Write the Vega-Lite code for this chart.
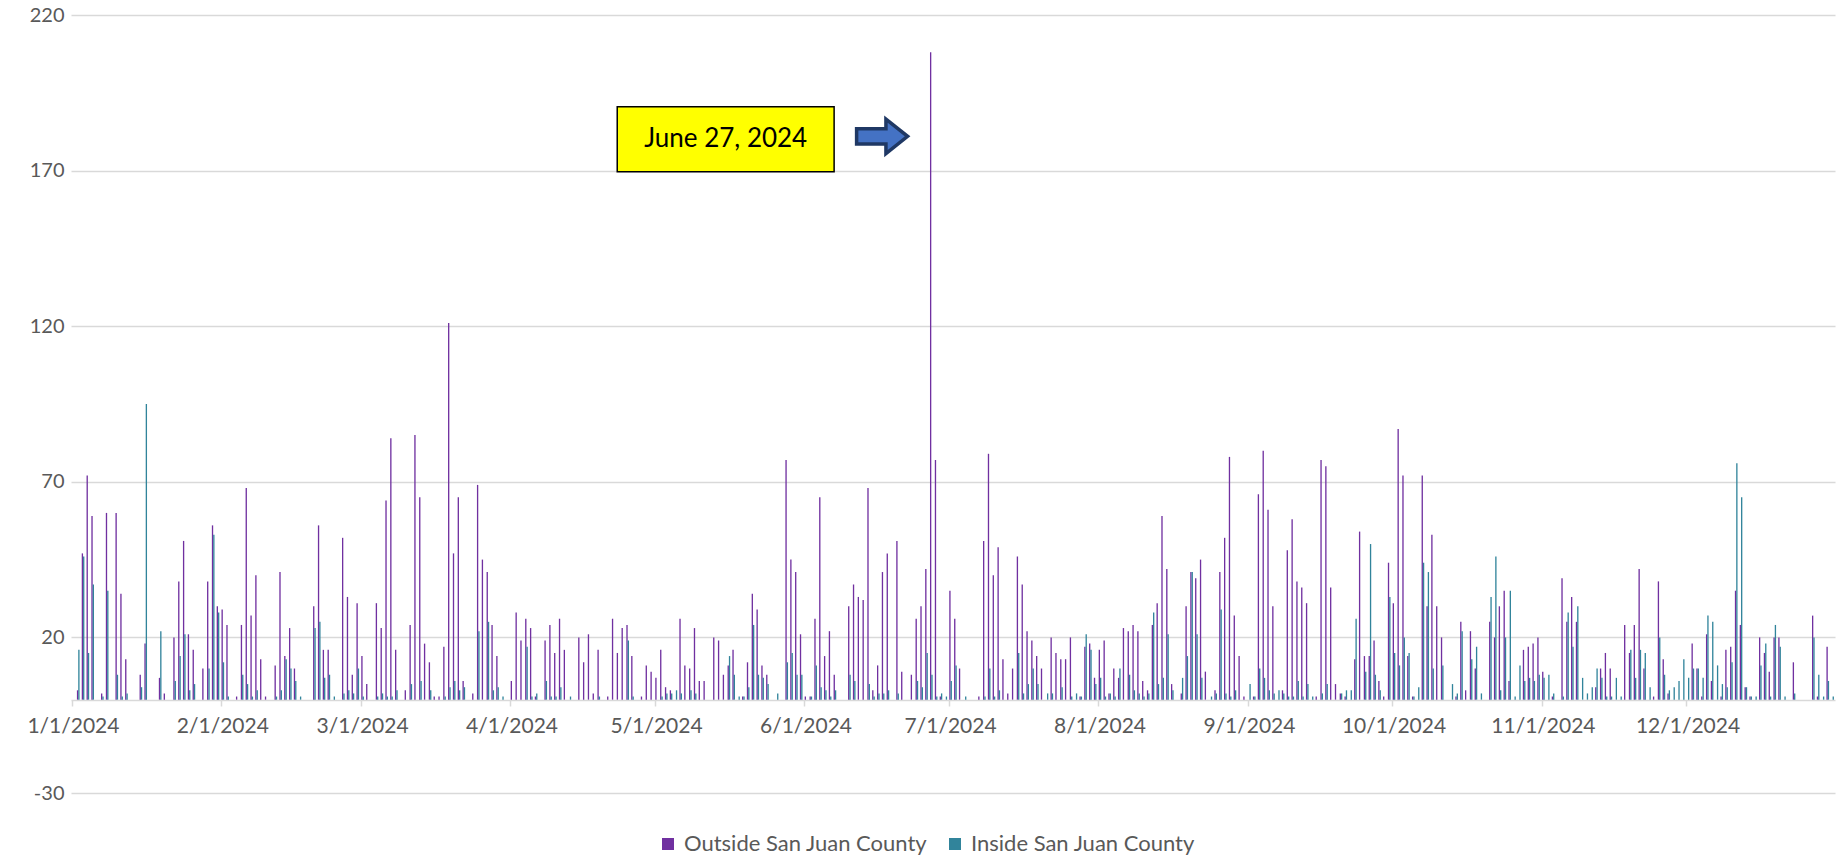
{"$schema":"https://vega.github.io/schema/vega-lite/v6.json","width":1764,"height":778,"autosize":{"type":"none"},"padding":{"left":71,"top":15,"right":12,"bottom":64},"background":"white","config":{"view":{"stroke":null},"font":"Lato"},
"datasets":{"daily":[
{"date":"2024-01-01","o":0,"i":0},{"date":"2024-01-02","o":3,"i":16},{"date":"2024-01-03","o":47,"i":46},{"date":"2024-01-04","o":72,"i":15},{"date":"2024-01-05","o":59,"i":37},{"date":"2024-01-06","o":0,"i":0},{"date":"2024-01-07","o":2,"i":1},{"date":"2024-01-08","o":60,"i":35},{"date":"2024-01-09","o":0,"i":0},{"date":"2024-01-10","o":60,"i":8},{"date":"2024-01-11","o":34,"i":1},{"date":"2024-01-12","o":13,"i":2},{"date":"2024-01-13","o":0,"i":0},{"date":"2024-01-14","o":0,"i":0},{"date":"2024-01-15","o":8,"i":4},{"date":"2024-01-16","o":18,"i":95},{"date":"2024-01-17","o":0,"i":0},{"date":"2024-01-18","o":0,"i":0},{"date":"2024-01-19","o":7,"i":22},{"date":"2024-01-20","o":2,"i":0},{"date":"2024-01-21","o":0,"i":0},{"date":"2024-01-22","o":20,"i":6},{"date":"2024-01-23","o":38,"i":14},{"date":"2024-01-24","o":51,"i":21},{"date":"2024-01-25","o":21,"i":3},{"date":"2024-01-26","o":16,"i":5},{"date":"2024-01-27","o":0,"i":0},{"date":"2024-01-28","o":10,"i":0},{"date":"2024-01-29","o":38,"i":10},{"date":"2024-01-30","o":56,"i":53},{"date":"2024-01-31","o":30,"i":28},
{"date":"2024-02-01","o":29,"i":12},{"date":"2024-02-02","o":24,"i":1},{"date":"2024-02-03","o":0,"i":0},{"date":"2024-02-04","o":1,"i":0},{"date":"2024-02-05","o":24,"i":8},{"date":"2024-02-06","o":68,"i":5},{"date":"2024-02-07","o":27,"i":1},{"date":"2024-02-08","o":40,"i":3},{"date":"2024-02-09","o":13,"i":0},{"date":"2024-02-10","o":1,"i":0},{"date":"2024-02-11","o":0,"i":0},{"date":"2024-02-12","o":11,"i":1},{"date":"2024-02-13","o":41,"i":3},{"date":"2024-02-14","o":14,"i":13},{"date":"2024-02-15","o":23,"i":10},{"date":"2024-02-16","o":10,"i":6},{"date":"2024-02-17","o":0,"i":1},{"date":"2024-02-18","o":0,"i":0},{"date":"2024-02-19","o":0,"i":0},{"date":"2024-02-20","o":30,"i":23},{"date":"2024-02-21","o":56,"i":25},{"date":"2024-02-22","o":16,"i":7},{"date":"2024-02-23","o":16,"i":8},{"date":"2024-02-24","o":0,"i":1},{"date":"2024-02-25","o":0,"i":0},{"date":"2024-02-26","o":52,"i":2},{"date":"2024-02-27","o":33,"i":3},{"date":"2024-02-28","o":8,"i":2},{"date":"2024-02-29","o":31,"i":10},
{"date":"2024-03-01","o":14,"i":1},{"date":"2024-03-02","o":5,"i":0},{"date":"2024-03-03","o":0,"i":0},{"date":"2024-03-04","o":31,"i":1},{"date":"2024-03-05","o":23,"i":2},{"date":"2024-03-06","o":64,"i":1},{"date":"2024-03-07","o":84,"i":1},{"date":"2024-03-08","o":16,"i":3},{"date":"2024-03-09","o":0,"i":0},{"date":"2024-03-10","o":3,"i":0},{"date":"2024-03-11","o":24,"i":5},{"date":"2024-03-12","o":85,"i":0},{"date":"2024-03-13","o":65,"i":6},{"date":"2024-03-14","o":18,"i":0},{"date":"2024-03-15","o":12,"i":3},{"date":"2024-03-16","o":1,"i":0},{"date":"2024-03-17","o":1,"i":0},{"date":"2024-03-18","o":17,"i":1},{"date":"2024-03-19","o":121,"i":4},{"date":"2024-03-20","o":47,"i":6},{"date":"2024-03-21","o":65,"i":3},{"date":"2024-03-22","o":6,"i":4},{"date":"2024-03-23","o":0,"i":0},{"date":"2024-03-24","o":2,"i":0},{"date":"2024-03-25","o":69,"i":22},{"date":"2024-03-26","o":45,"i":0},{"date":"2024-03-27","o":41,"i":25},{"date":"2024-03-28","o":24,"i":3},{"date":"2024-03-29","o":14,"i":4},{"date":"2024-03-30","o":0,"i":1},{"date":"2024-03-31","o":0,"i":0},
{"date":"2024-04-01","o":6,"i":0},{"date":"2024-04-02","o":28,"i":0},{"date":"2024-04-03","o":19,"i":0},{"date":"2024-04-04","o":26,"i":17},{"date":"2024-04-05","o":23,"i":1},{"date":"2024-04-06","o":1,"i":2},{"date":"2024-04-07","o":0,"i":0},{"date":"2024-04-08","o":19,"i":6},{"date":"2024-04-09","o":24,"i":1},{"date":"2024-04-10","o":15,"i":1},{"date":"2024-04-11","o":26,"i":4},{"date":"2024-04-12","o":16,"i":0},{"date":"2024-04-13","o":0,"i":1},{"date":"2024-04-14","o":0,"i":0},{"date":"2024-04-15","o":20,"i":0},{"date":"2024-04-16","o":12,"i":0},{"date":"2024-04-17","o":21,"i":0},{"date":"2024-04-18","o":2,"i":0},{"date":"2024-04-19","o":16,"i":1},{"date":"2024-04-20","o":0,"i":0},{"date":"2024-04-21","o":1,"i":0},{"date":"2024-04-22","o":26,"i":0},{"date":"2024-04-23","o":15,"i":0},{"date":"2024-04-24","o":23,"i":0},{"date":"2024-04-25","o":24,"i":19},{"date":"2024-04-26","o":14,"i":1},{"date":"2024-04-27","o":0,"i":0},{"date":"2024-04-28","o":1,"i":0},{"date":"2024-04-29","o":11,"i":0},{"date":"2024-04-30","o":9,"i":0},
{"date":"2024-05-01","o":7,"i":0},{"date":"2024-05-02","o":16,"i":1},{"date":"2024-05-03","o":4,"i":2},{"date":"2024-05-04","o":3,"i":2},{"date":"2024-05-05","o":0,"i":3},{"date":"2024-05-06","o":26,"i":2},{"date":"2024-05-07","o":11,"i":0},{"date":"2024-05-08","o":10,"i":3},{"date":"2024-05-09","o":23,"i":2},{"date":"2024-05-10","o":6,"i":0},{"date":"2024-05-11","o":6,"i":0},{"date":"2024-05-12","o":0,"i":0},{"date":"2024-05-13","o":20,"i":0},{"date":"2024-05-14","o":19,"i":0},{"date":"2024-05-15","o":8,"i":0},{"date":"2024-05-16","o":11,"i":14},{"date":"2024-05-17","o":16,"i":8},{"date":"2024-05-18","o":0,"i":1},{"date":"2024-05-19","o":1,"i":1},{"date":"2024-05-20","o":12,"i":4},{"date":"2024-05-21","o":34,"i":24},{"date":"2024-05-22","o":29,"i":8},{"date":"2024-05-23","o":11,"i":7},{"date":"2024-05-24","o":8,"i":5},{"date":"2024-05-25","o":0,"i":0},{"date":"2024-05-26","o":0,"i":2},{"date":"2024-05-27","o":0,"i":0},{"date":"2024-05-28","o":77,"i":12},{"date":"2024-05-29","o":45,"i":15},{"date":"2024-05-30","o":41,"i":8},{"date":"2024-05-31","o":21,"i":8},
{"date":"2024-06-01","o":1,"i":0},{"date":"2024-06-02","o":1,"i":1},{"date":"2024-06-03","o":26,"i":11},{"date":"2024-06-04","o":65,"i":4},{"date":"2024-06-05","o":14,"i":3},{"date":"2024-06-06","o":22,"i":1},{"date":"2024-06-07","o":8,"i":3},{"date":"2024-06-08","o":0,"i":0},{"date":"2024-06-09","o":0,"i":0},{"date":"2024-06-10","o":30,"i":8},{"date":"2024-06-11","o":37,"i":6},{"date":"2024-06-12","o":33,"i":0},{"date":"2024-06-13","o":32,"i":0},{"date":"2024-06-14","o":68,"i":5},{"date":"2024-06-15","o":3,"i":1},{"date":"2024-06-16","o":11,"i":2},{"date":"2024-06-17","o":41,"i":2},{"date":"2024-06-18","o":47,"i":3},{"date":"2024-06-19","o":0,"i":0},{"date":"2024-06-20","o":51,"i":2},{"date":"2024-06-21","o":9,"i":0},{"date":"2024-06-22","o":0,"i":0},{"date":"2024-06-23","o":8,"i":0},{"date":"2024-06-24","o":26,"i":6},{"date":"2024-06-25","o":30,"i":4},{"date":"2024-06-26","o":42,"i":15},{"date":"2024-06-27","o":208,"i":8},{"date":"2024-06-28","o":77,"i":1},{"date":"2024-06-29","o":1,"i":2},{"date":"2024-06-30","o":0,"i":1},
{"date":"2024-07-01","o":35,"i":6},{"date":"2024-07-02","o":26,"i":11},{"date":"2024-07-03","o":10,"i":0},{"date":"2024-07-04","o":0,"i":1},{"date":"2024-07-05","o":0,"i":0},{"date":"2024-07-06","o":0,"i":0},{"date":"2024-07-07","o":1,"i":0},{"date":"2024-07-08","o":51,"i":1},{"date":"2024-07-09","o":79,"i":10},{"date":"2024-07-10","o":40,"i":1},{"date":"2024-07-11","o":49,"i":3},{"date":"2024-07-12","o":13,"i":0},{"date":"2024-07-13","o":2,"i":0},{"date":"2024-07-14","o":10,"i":0},{"date":"2024-07-15","o":46,"i":15},{"date":"2024-07-16","o":37,"i":2},{"date":"2024-07-17","o":22,"i":5},{"date":"2024-07-18","o":19,"i":10},{"date":"2024-07-19","o":14,"i":5},{"date":"2024-07-20","o":10,"i":0},{"date":"2024-07-21","o":0,"i":2},{"date":"2024-07-22","o":20,"i":2},{"date":"2024-07-23","o":15,"i":0},{"date":"2024-07-24","o":13,"i":4},{"date":"2024-07-25","o":13,"i":0},{"date":"2024-07-26","o":20,"i":1},{"date":"2024-07-27","o":0,"i":2},{"date":"2024-07-28","o":1,"i":1},{"date":"2024-07-29","o":17,"i":21},{"date":"2024-07-30","o":18,"i":16},{"date":"2024-07-31","o":7,"i":5},
{"date":"2024-08-01","o":16,"i":7},{"date":"2024-08-02","o":19,"i":1},{"date":"2024-08-03","o":2,"i":2},{"date":"2024-08-04","o":10,"i":1},{"date":"2024-08-05","o":7,"i":10},{"date":"2024-08-06","o":23,"i":0},{"date":"2024-08-07","o":22,"i":8},{"date":"2024-08-08","o":24,"i":3},{"date":"2024-08-09","o":22,"i":2},{"date":"2024-08-10","o":6,"i":1},{"date":"2024-08-11","o":3,"i":2},{"date":"2024-08-12","o":24,"i":28},{"date":"2024-08-13","o":31,"i":5},{"date":"2024-08-14","o":59,"i":7},{"date":"2024-08-15","o":42,"i":21},{"date":"2024-08-16","o":5,"i":3},{"date":"2024-08-17","o":0,"i":0},{"date":"2024-08-18","o":2,"i":7},{"date":"2024-08-19","o":30,"i":14},{"date":"2024-08-20","o":41,"i":41},{"date":"2024-08-21","o":39,"i":21},{"date":"2024-08-22","o":45,"i":7},{"date":"2024-08-23","o":9,"i":0},{"date":"2024-08-24","o":0,"i":1},{"date":"2024-08-25","o":3,"i":2},{"date":"2024-08-26","o":41,"i":29},{"date":"2024-08-27","o":52,"i":2},{"date":"2024-08-28","o":78,"i":1},{"date":"2024-08-29","o":27,"i":3},{"date":"2024-08-30","o":14,"i":0},{"date":"2024-08-31","o":1,"i":0},
{"date":"2024-09-01","o":0,"i":5},{"date":"2024-09-02","o":1,"i":1},{"date":"2024-09-03","o":66,"i":10},{"date":"2024-09-04","o":80,"i":7},{"date":"2024-09-05","o":61,"i":3},{"date":"2024-09-06","o":30,"i":2},{"date":"2024-09-07","o":0,"i":3},{"date":"2024-09-08","o":3,"i":2},{"date":"2024-09-09","o":48,"i":1},{"date":"2024-09-10","o":58,"i":1},{"date":"2024-09-11","o":38,"i":6},{"date":"2024-09-12","o":36,"i":1},{"date":"2024-09-13","o":31,"i":5},{"date":"2024-09-14","o":0,"i":1},{"date":"2024-09-15","o":1,"i":0},{"date":"2024-09-16","o":77,"i":2},{"date":"2024-09-17","o":75,"i":5},{"date":"2024-09-18","o":36,"i":0},{"date":"2024-09-19","o":5,"i":0},{"date":"2024-09-20","o":2,"i":2},{"date":"2024-09-21","o":1,"i":3},{"date":"2024-09-22","o":0,"i":3},{"date":"2024-09-23","o":13,"i":26},{"date":"2024-09-24","o":54,"i":0},{"date":"2024-09-25","o":14,"i":9},{"date":"2024-09-26","o":14,"i":50},{"date":"2024-09-27","o":19,"i":8},{"date":"2024-09-28","o":6,"i":3},{"date":"2024-09-29","o":1,"i":0},{"date":"2024-09-30","o":44,"i":33},
{"date":"2024-10-01","o":31,"i":15},{"date":"2024-10-02","o":87,"i":11},{"date":"2024-10-03","o":72,"i":20},{"date":"2024-10-04","o":14,"i":15},{"date":"2024-10-05","o":1,"i":1},{"date":"2024-10-06","o":0,"i":4},{"date":"2024-10-07","o":72,"i":44},{"date":"2024-10-08","o":30,"i":41},{"date":"2024-10-09","o":53,"i":10},{"date":"2024-10-10","o":30,"i":0},{"date":"2024-10-11","o":20,"i":11},{"date":"2024-10-12","o":0,"i":0},{"date":"2024-10-13","o":0,"i":5},{"date":"2024-10-14","o":1,"i":2},{"date":"2024-10-15","o":25,"i":22},{"date":"2024-10-16","o":3,"i":0},{"date":"2024-10-17","o":22,"i":13},{"date":"2024-10-18","o":10,"i":17},{"date":"2024-10-19","o":0,"i":2},{"date":"2024-10-20","o":0,"i":0},{"date":"2024-10-21","o":25,"i":33},{"date":"2024-10-22","o":20,"i":46},{"date":"2024-10-23","o":30,"i":3},{"date":"2024-10-24","o":35,"i":20},{"date":"2024-10-25","o":6,"i":35},{"date":"2024-10-26","o":0,"i":1},{"date":"2024-10-27","o":0,"i":11},{"date":"2024-10-28","o":16,"i":6},{"date":"2024-10-29","o":17,"i":7},{"date":"2024-10-30","o":18,"i":6},{"date":"2024-10-31","o":20,"i":8},
{"date":"2024-11-01","o":9,"i":7},{"date":"2024-11-02","o":0,"i":8},{"date":"2024-11-03","o":1,"i":2},{"date":"2024-11-04","o":0,"i":0},{"date":"2024-11-05","o":39,"i":1},{"date":"2024-11-06","o":25,"i":28},{"date":"2024-11-07","o":33,"i":17},{"date":"2024-11-08","o":25,"i":30},{"date":"2024-11-09","o":0,"i":7},{"date":"2024-11-10","o":0,"i":2},{"date":"2024-11-11","o":0,"i":4},{"date":"2024-11-12","o":4,"i":10},{"date":"2024-11-13","o":10,"i":7},{"date":"2024-11-14","o":15,"i":1},{"date":"2024-11-15","o":10,"i":1},{"date":"2024-11-16","o":0,"i":7},{"date":"2024-11-17","o":0,"i":1},{"date":"2024-11-18","o":24,"i":0},{"date":"2024-11-19","o":15,"i":16},{"date":"2024-11-20","o":24,"i":7},{"date":"2024-11-21","o":42,"i":16},{"date":"2024-11-22","o":10,"i":15},{"date":"2024-11-23","o":0,"i":4},{"date":"2024-11-24","o":1,"i":0},{"date":"2024-11-25","o":38,"i":20},{"date":"2024-11-26","o":13,"i":8},{"date":"2024-11-27","o":2,"i":3},{"date":"2024-11-28","o":0,"i":4},{"date":"2024-11-29","o":0,"i":6},{"date":"2024-11-30","o":0,"i":13},
{"date":"2024-12-01","o":0,"i":7},{"date":"2024-12-02","o":18,"i":10},{"date":"2024-12-03","o":10,"i":10},{"date":"2024-12-04","o":1,"i":7},{"date":"2024-12-05","o":21,"i":27},{"date":"2024-12-06","o":6,"i":25},{"date":"2024-12-07","o":0,"i":11},{"date":"2024-12-08","o":1,"i":5},{"date":"2024-12-09","o":16,"i":4},{"date":"2024-12-10","o":17,"i":12},{"date":"2024-12-11","o":35,"i":76},{"date":"2024-12-12","o":24,"i":65},{"date":"2024-12-13","o":4,"i":4},{"date":"2024-12-14","o":1,"i":1},{"date":"2024-12-15","o":0,"i":1},{"date":"2024-12-16","o":20,"i":11},{"date":"2024-12-17","o":15,"i":18},{"date":"2024-12-18","o":9,"i":1},{"date":"2024-12-19","o":20,"i":24},{"date":"2024-12-20","o":20,"i":17},{"date":"2024-12-21","o":0,"i":1},{"date":"2024-12-22","o":0,"i":0},{"date":"2024-12-23","o":12,"i":2},{"date":"2024-12-24","o":0,"i":0},{"date":"2024-12-25","o":0,"i":0},{"date":"2024-12-26","o":0,"i":0},{"date":"2024-12-27","o":27,"i":20},{"date":"2024-12-28","o":1,"i":8},{"date":"2024-12-29","o":0,"i":1},{"date":"2024-12-30","o":17,"i":6},{"date":"2024-12-31","o":0,"i":1}
],"note":[{"label":"June 27, 2024"}]},
"layer":[
{"data":{"name":"daily"},"transform":[{"fold":["o","i"],"as":["series","value"]}],
"mark":{"type":"bar"},
"encoding":{
"x":{"field":"date","type":"ordinal","sort":"ascending","scale":{"paddingInner":0.45,"paddingOuter":0.225},"axis":{"title":null,"values":["2024-01-01","2024-02-01","2024-03-01","2024-04-01","2024-05-01","2024-06-01","2024-07-01","2024-08-01","2024-09-01","2024-10-01","2024-11-01","2024-12-01"],"labelExpr":"toNumber(substring(datum.value,5,7)) + '/' + toNumber(substring(datum.value,8,10)) + '/' + substring(datum.value,0,4)","bandPosition":0,"offset":-93,"domainColor":"#d9d9d9","domainWidth":1.5,"tickColor":"#d9d9d9","tickWidth":1.5,"tickSize":6,"labelAngle":0,"labelColor":"#595959","labelFontSize":21,"labelPadding":9,"grid":false}},
"xOffset":{"field":"series","type":"nominal","scale":{"domain":["o","i"]}},
"y":{"field":"value","type":"quantitative","scale":{"domain":[-30,220],"nice":false},"axis":{"title":null,"values":[-30,20,70,120,170,220],"labelExpr":"datum.value < 0 ? '-' + abs(datum.value) : '' + datum.value","grid":true,"gridColor":"#d9d9d9","gridWidth":1.5,"domain":false,"ticks":false,"labelColor":"#595959","labelFontSize":20,"labelPadding":7}},
"color":{"field":"series","type":"nominal","scale":{"domain":["o","i"],"range":["#7030a0","#31849b"]},"legend":{"title":null,"orient":"none","legendX":586,"legendY":818,"direction":"horizontal","symbolType":"square","symbolSize":144,"symbolStrokeWidth":0,"labelFontSize":22,"labelColor":"#595959","labelLimit":400,"labelOffset":5,"columnPadding":16,"labelExpr":"datum.label == 'o' ? 'Outside San Juan County' : 'Inside San Juan County'"}}
}},
{"data":{"name":"note"},
"layer":[
{"mark":{"type":"rect","fill":"#ffff00","stroke":"#000000","strokeWidth":1.5},
"encoding":{
"x":{"datum":{"year":2024,"month":4,"date":23,"hours":8},"type":"temporal","scale":{"domain":[{"year":2024,"month":1,"date":1},{"year":2025,"month":1,"date":1}]},"axis":null},
"x2":{"datum":{"year":2024,"month":6,"date":7,"hours":8}},
"y":{"datum":190.5,"type":"quantitative"},
"y2":{"datum":169.6}
}},
{"mark":{"type":"text","fontSize":26,"color":"#000000","align":"center","baseline":"middle","font":"Lato"},
"encoding":{
"text":{"field":"label","type":"nominal"},
"x":{"datum":{"year":2024,"month":5,"date":15,"hours":20},"type":"temporal"},
"y":{"datum":180,"type":"quantitative"}
}},
{"mark":{"type":"point","filled":true,"shape":"M -1 -0.3 L 0.15 -0.3 L 0.15 -0.68 L 1 0 L 0.15 0.68 L 0.15 0.3 L -1 0.3 Z","size":2601,"fill":"#4472c4","stroke":"#1f3864","strokeWidth":3.5,"opacity":1,"fillOpacity":1,"strokeOpacity":1},
"encoding":{
"x":{"datum":{"year":2024,"month":6,"date":17,"hours":7},"type":"temporal"},
"y":{"datum":181,"type":"quantitative"}
}}
]}
],
"resolve":{"scale":{"x":"independent"}}
}
